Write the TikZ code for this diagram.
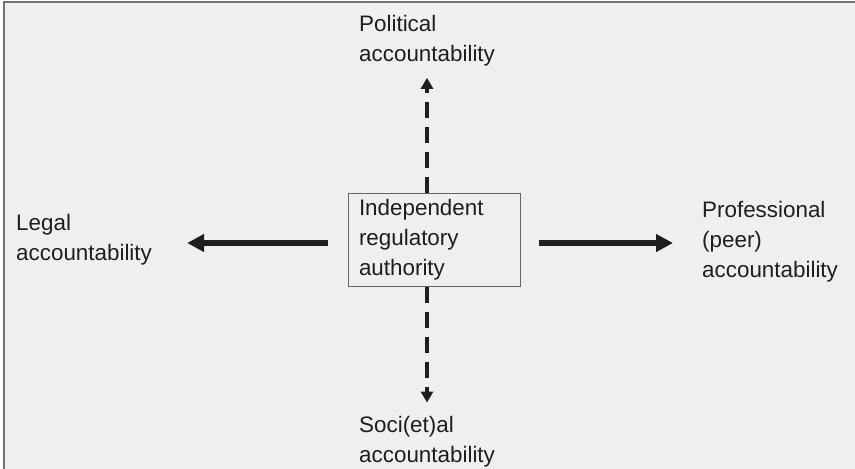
\documentclass[tikz,border=0pt]{standalone}
\usepackage{fontspec}
\setmainfont{Liberation Sans}
\usepackage{tikz}
\usetikzlibrary{arrows.meta,calc}
\definecolor{panel}{HTML}{EFEFEF}
\definecolor{ink}{HTML}{1E1E1E}
\tikzstyle{acc}=[align=left,inner sep=0pt,anchor=base west,text=ink,font=\fontsize{22.4pt}{30pt}\selectfont]
\tikzstyle{agency}=[draw=black!60,line width=1pt,text width=150pt,inner xsep=11pt,minimum height=93pt,align=left,text=ink,font=\fontsize{22.4pt}{30pt}\selectfont]
\tikzstyle{solidarrow}=[draw=ink,line width=5.5pt,-{Triangle[length=17pt,width=17pt]}]
\tikzstyle{dashedarrow}=[draw=ink,line width=4.5pt,dash pattern=on 16pt off 9pt,-{Triangle[length=11pt,width=12pt]}]

\begin{document}
\begin{tikzpicture}[x=1pt,y=-1pt]
    \useasboundingbox (0,0) rectangle (855,469);
    \fill[panel] (4,2) rectangle (855,469);
    \draw[black!55,line width=2pt] (4,469) -- (4,2) -- (855,2);

    \node[agency] (ira) at (434,239.5) {Independent\\regulatory\\authority};

    % base west sits on the last line
    \foreach \pos/\name/\txt in {{(359,61)/pol/{Political\\accountability}},
                                 {(16,260)/leg/{Legal\\accountability}},
                                 {(702,277)/pro/{Professional\\(peer)\\accountability}},
                                 {(359,462)/soc/{Soci(et)al\\accountability}}}
        \node[acc] (\name) at \pos {\txt};

    % accountability lines
    \path[solidarrow,shorten <=20pt,shorten >=35pt] ([yshift=-3.5pt]ira.west) -- ([yshift=-3.5pt]ira.west -| leg.east);
    \path[solidarrow,shorten <=18pt,shorten >=29pt] ([yshift=-3.5pt]ira.east) -- ([yshift=-3.5pt]ira.east -| pro.west);
    \path[dashedarrow,shorten >=12pt] ([xshift=-7pt]ira.north) -- ([xshift=-7pt]ira.north |- pol.south);
    \path[dashedarrow,shorten >=13pt] ([xshift=-7pt]ira.south) -- ([xshift=-7pt]ira.south |- soc.north);
\end{tikzpicture}
\end{document}
